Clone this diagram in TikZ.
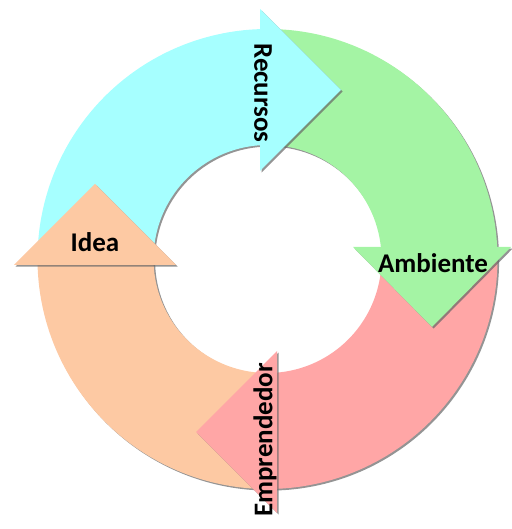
\documentclass[tikz,border=0pt]{standalone}
\usepackage{fontspec}
\setmainfont{Carlito}
\usetikzlibrary{calc,shadows}

\definecolor{cRec}{HTML}{A6FFFF}
\definecolor{cAmb}{HTML}{A4F4A4}
\definecolor{cEmp}{HTML}{FFA6A6}
\definecolor{cIdea}{HTML}{FDC9A3}

\tikzset{
  piece/.style={fill=#1, draw=none,
    drop shadow={shadow xshift=1.6pt, shadow yshift=-1.6pt, fill=black!60, opacity=.7}},
  label/.style={font=\fontsize{27}{32}\selectfont\bfseries, inner sep=0pt}
}

\begin{document}
\begin{tikzpicture}[x=1pt,y=1pt]
\useasboundingbox (0,0) rectangle (511,529);

\coordinate (C) at (267.5,270);

% ring pieces, clockwise
\foreach \col/\from/\to in {cRec/181/89, cAmb/91.5/2, cEmp/2.5/-89, cIdea/-88/-180}
	\path[piece=\col] ($(C)+(\from:230)$) arc[start angle=\from, end angle=\to, radius=230]
		-- ($(C)+(\to:114)$) arc[start angle=\to, end angle=\from, radius=114] -- cycle;

% heads
\path[piece=cRec] (260,520) -- (341,439) -- (260,358) -- cycle;
\path[piece=cAmb] (511,282) -- (432,202) -- (353,282) -- cycle;
\path[piece=cEmp] (277,178) -- (196,97) -- (277,16) -- cycle;
\path[piece=cIdea] (14,264) -- (95,345) -- (176,264) -- cycle;

\node[label, rotate=-90] (rec) at (263,436) {Recursos};
\node[label] (amb) at (433,266) {Ambiente};
\node[label, rotate=90] (emp) at (265,89) {Emprendedor};
\node[label] (idea) at (95,287) {Idea};

\end{tikzpicture}
\end{document}
